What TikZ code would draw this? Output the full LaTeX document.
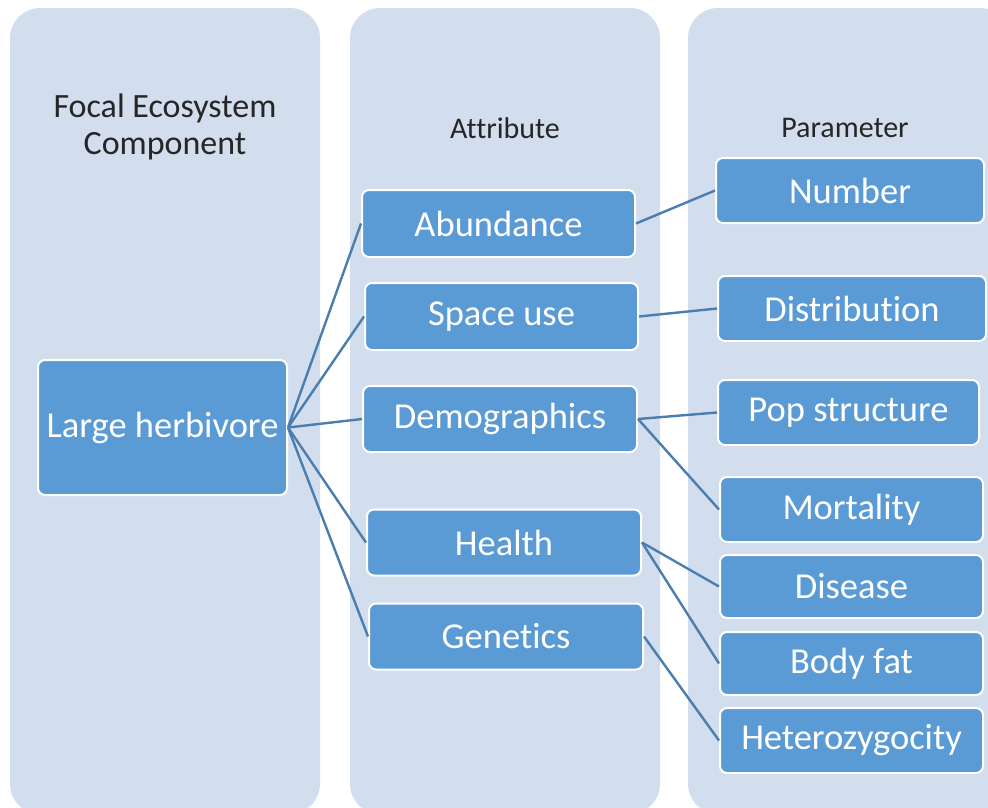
\documentclass[tikz,border=0pt]{standalone}
\usepackage{fontspec}
\setmainfont{Carlito}[Ligatures={NoCommon}]
\definecolor{panelbg}{HTML}{D2DDEE}
\definecolor{boxfill}{HTML}{5B9BD5}
\definecolor{linkcol}{HTML}{4A7EAE}
\definecolor{headtxt}{HTML}{262626}
\begin{document}
\begin{tikzpicture}[x=1pt,y=-1pt,
  panel/.style={fill=panelbg, draw=none, rounded corners=30pt},
  box/.style={draw=white, line width=2pt, fill=boxfill, rounded corners=7pt,
    text=white, font=\fontsize{36.5}{42}\selectfont, inner sep=0pt},
  head/.style={text=headtxt, align=center},
  link/.style={draw=linkcol, line width=2.4pt}]
\useasboundingbox (0,0) rectangle (988,807);
\begin{scope}
\clip (0,0) rectangle (988,807);
\fill[panel] (10,8) rectangle (320,814);
\fill[panel] (350,8) rectangle (660,814);
\fill[panel] (688,8) rectangle (1010,814);
\end{scope}
\node[head, font=\fontsize{34}{37}\selectfont] (h1) at (165,127) {Focal Ecosystem\\Component};
\node[head, font=\fontsize{30}{34}\selectfont] (h2) at (505,128) {Attribute};
\node[head, font=\fontsize{30}{34}\selectfont] (h3) at (845,128) {Parameter};
% focal
\node[box, minimum width=249pt, minimum height=135pt] (lh) at (162.5,427.5) {Large herbivore};
% attributes
\node[box, minimum width=273pt, minimum height=67pt] (ab) at (498.5,223.5) {Abundance};
\node[box, minimum width=273pt, minimum height=67pt] (su) at (501.5,316.5) {Space use};
\node[box, minimum width=274pt, minimum height=66pt] (de) at (500,419) {Demographics};
\node[box, minimum width=274pt, minimum height=66pt] (he) at (504,542.5) {Health};
\node[box, minimum width=274pt, minimum height=66pt] (ge) at (506,636.5) {Genetics};
% parameters
\node[box, minimum width=268pt, minimum height=65pt] (nu) at (850,190.5) {Number};
\node[box, minimum width=268pt, minimum height=65pt] (di) at (852,308.5) {Distribution};
\node[box, minimum width=261pt, minimum height=65pt] (ps) at (848.5,412.5) {Pop structure};
\node[box, minimum width=263pt, minimum height=65pt] (mo) at (851.5,509.5) {Mortality};
\node[box, minimum width=263pt, minimum height=63pt] (ds) at (851.5,586.5) {Disease};
\node[box, minimum width=263pt, minimum height=63pt] (bf) at (851.5,663.5) {Body fat};
\node[box, minimum width=263pt, minimum height=65pt] (hz) at (851.5,740.5) {Heterozygocity};
% links
\foreach \t in {ab,su,de,he,ge} \draw[link] (lh.east) -- (\t.west);
\draw[link] (ab.east) -- (nu.west);
\draw[link] (su.east) -- (di.west);
\draw[link] (de.east) -- (ps.west);
\draw[link] (de.east) -- (mo.west);
\draw[link] (he.east) -- (ds.west);
\draw[link] (he.east) -- (bf.west);
\draw[link] (ge.east) -- (hz.west);
\end{tikzpicture}
\end{document}
